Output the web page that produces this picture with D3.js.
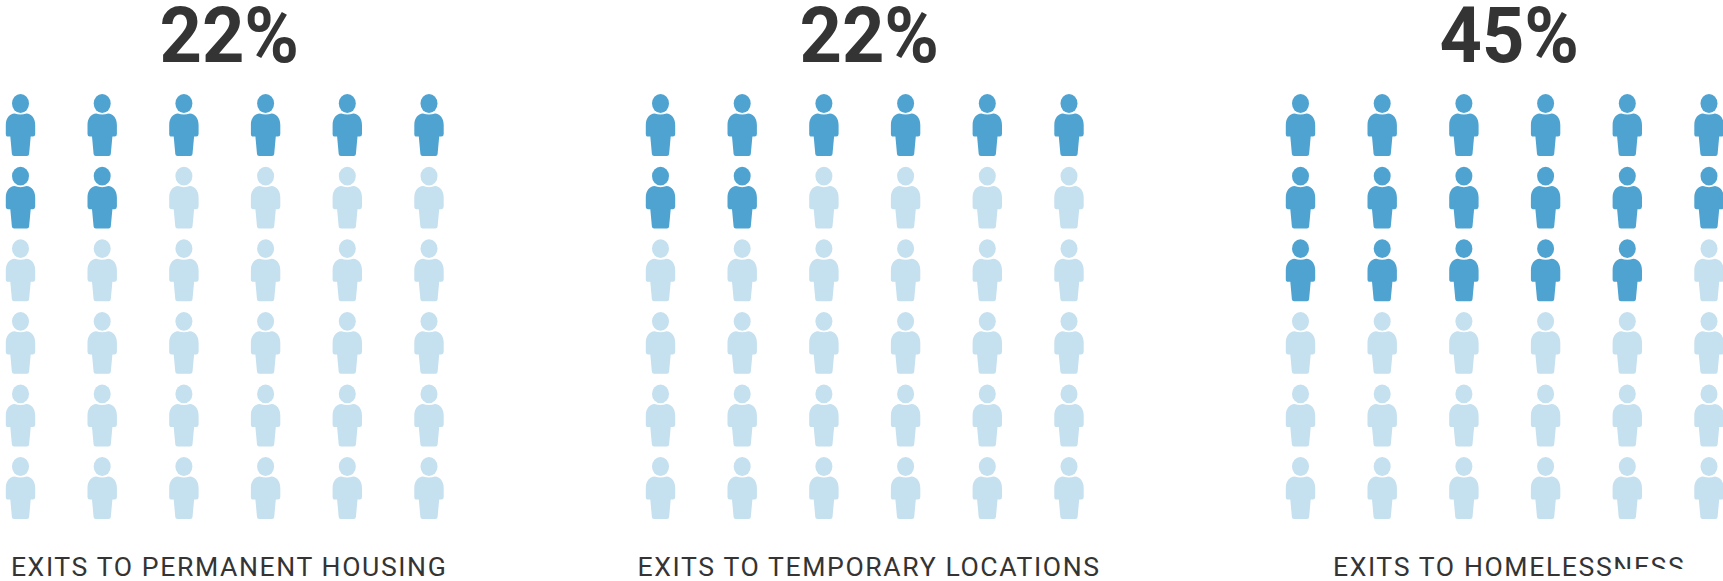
<!DOCTYPE html>
<html>
<head>
<meta charset="utf-8">
<script src="https://cdn.jsdelivr.net/npm/d3@7/dist/d3.min.js"></script>
<style>
html,body{margin:0;padding:0;background:#fff;overflow:hidden}
svg{display:block}
text{font-family:Roboto,sans-serif;fill:#343434}
</style>
</head>
<body>
<svg id="c" width="1723" height="581"></svg>
<script>
const categories = ["EXITS TO PERMANENT HOUSING", "EXITS TO TEMPORARY LOCATIONS", "EXITS TO HOMELESSNESS"];
const percentValues = [22, 22, 45];
const filledCounts = [8, 8, 17];
const columnIndexes = [0, 1, 2, 3, 4, 5];
const rowIndexes = [0, 1, 2, 3, 4, 5];
const dark = "#4fa3d1", light = "#c5e0ef";
const personBody = "M-6,19.5Q0,21.6 6,19.5C11,20 14.7,24 14.7,31L14.7,40Q14.7,42.6 12.4,42.6L10.2,42.6L8.6,60Q8.4,62 6.4,62L-6.4,62Q-8.4,62 -8.6,60L-10.2,42.6L-12.4,42.6Q-14.7,42.6 -14.7,40L-14.7,31C-14.7,24 -11,20 -6,19.5Z";

const svg = d3.select("#c");
const panelX = d3.scaleLinear().domain([0, 2]).range([20.5, 1300.5]);
const colX = d3.scaleLinear().domain([0, 5]).range([0, 408.5]);
const rowY = d3.scaleLinear().domain([0, 5]).range([94, 457]);

const panels = svg.selectAll("g.panel").data(categories).join("g")
  .attr("class", "panel")
  .attr("transform", (d, i) => `translate(${panelX(i)},0)`);

panels.append("text")
  .attr("transform", `translate(${colX(2.5) + 4.5},61.5) scale(1,1.04)`)
  .attr("text-anchor", "middle")
  .style("font-size", "74px").style("font-weight", 700)
  .text((d, i) => percentValues[i] + "%");

panels.each(function (d, p) {
  const cells = rowIndexes.flatMap(r => columnIndexes.map(c => ({ r, c, on: r * 6 + c < filledCounts[p] })));
  const people = d3.select(this).selectAll("g.person").data(cells).join("g")
    .attr("class", "person")
    .attr("fill", e => e.on ? dark : light)
    .attr("transform", e => `translate(${colX(e.c)},${rowY(e.r)})`);
  people.append("ellipse").attr("cx", 0).attr("cy", 9.5).attr("rx", 8.5).attr("ry", 9.4);
  people.append("path").attr("d", personBody);
});

panels.append("text")
  .attr("x", colX(2.5) + 4.4).attr("y", 576)
  .attr("text-anchor", "middle")
  .style("font-size", "26.6px").style("letter-spacing", "1.6px")
  .text(d => d);

// The reference's last label is cut by a white patch at the lower right.
svg.append("rect").attr("x", 1615).attr("y", 569).attr("width", 80).attr("height", 12).attr("fill", "#fff");
</script>
</body>
</html>
